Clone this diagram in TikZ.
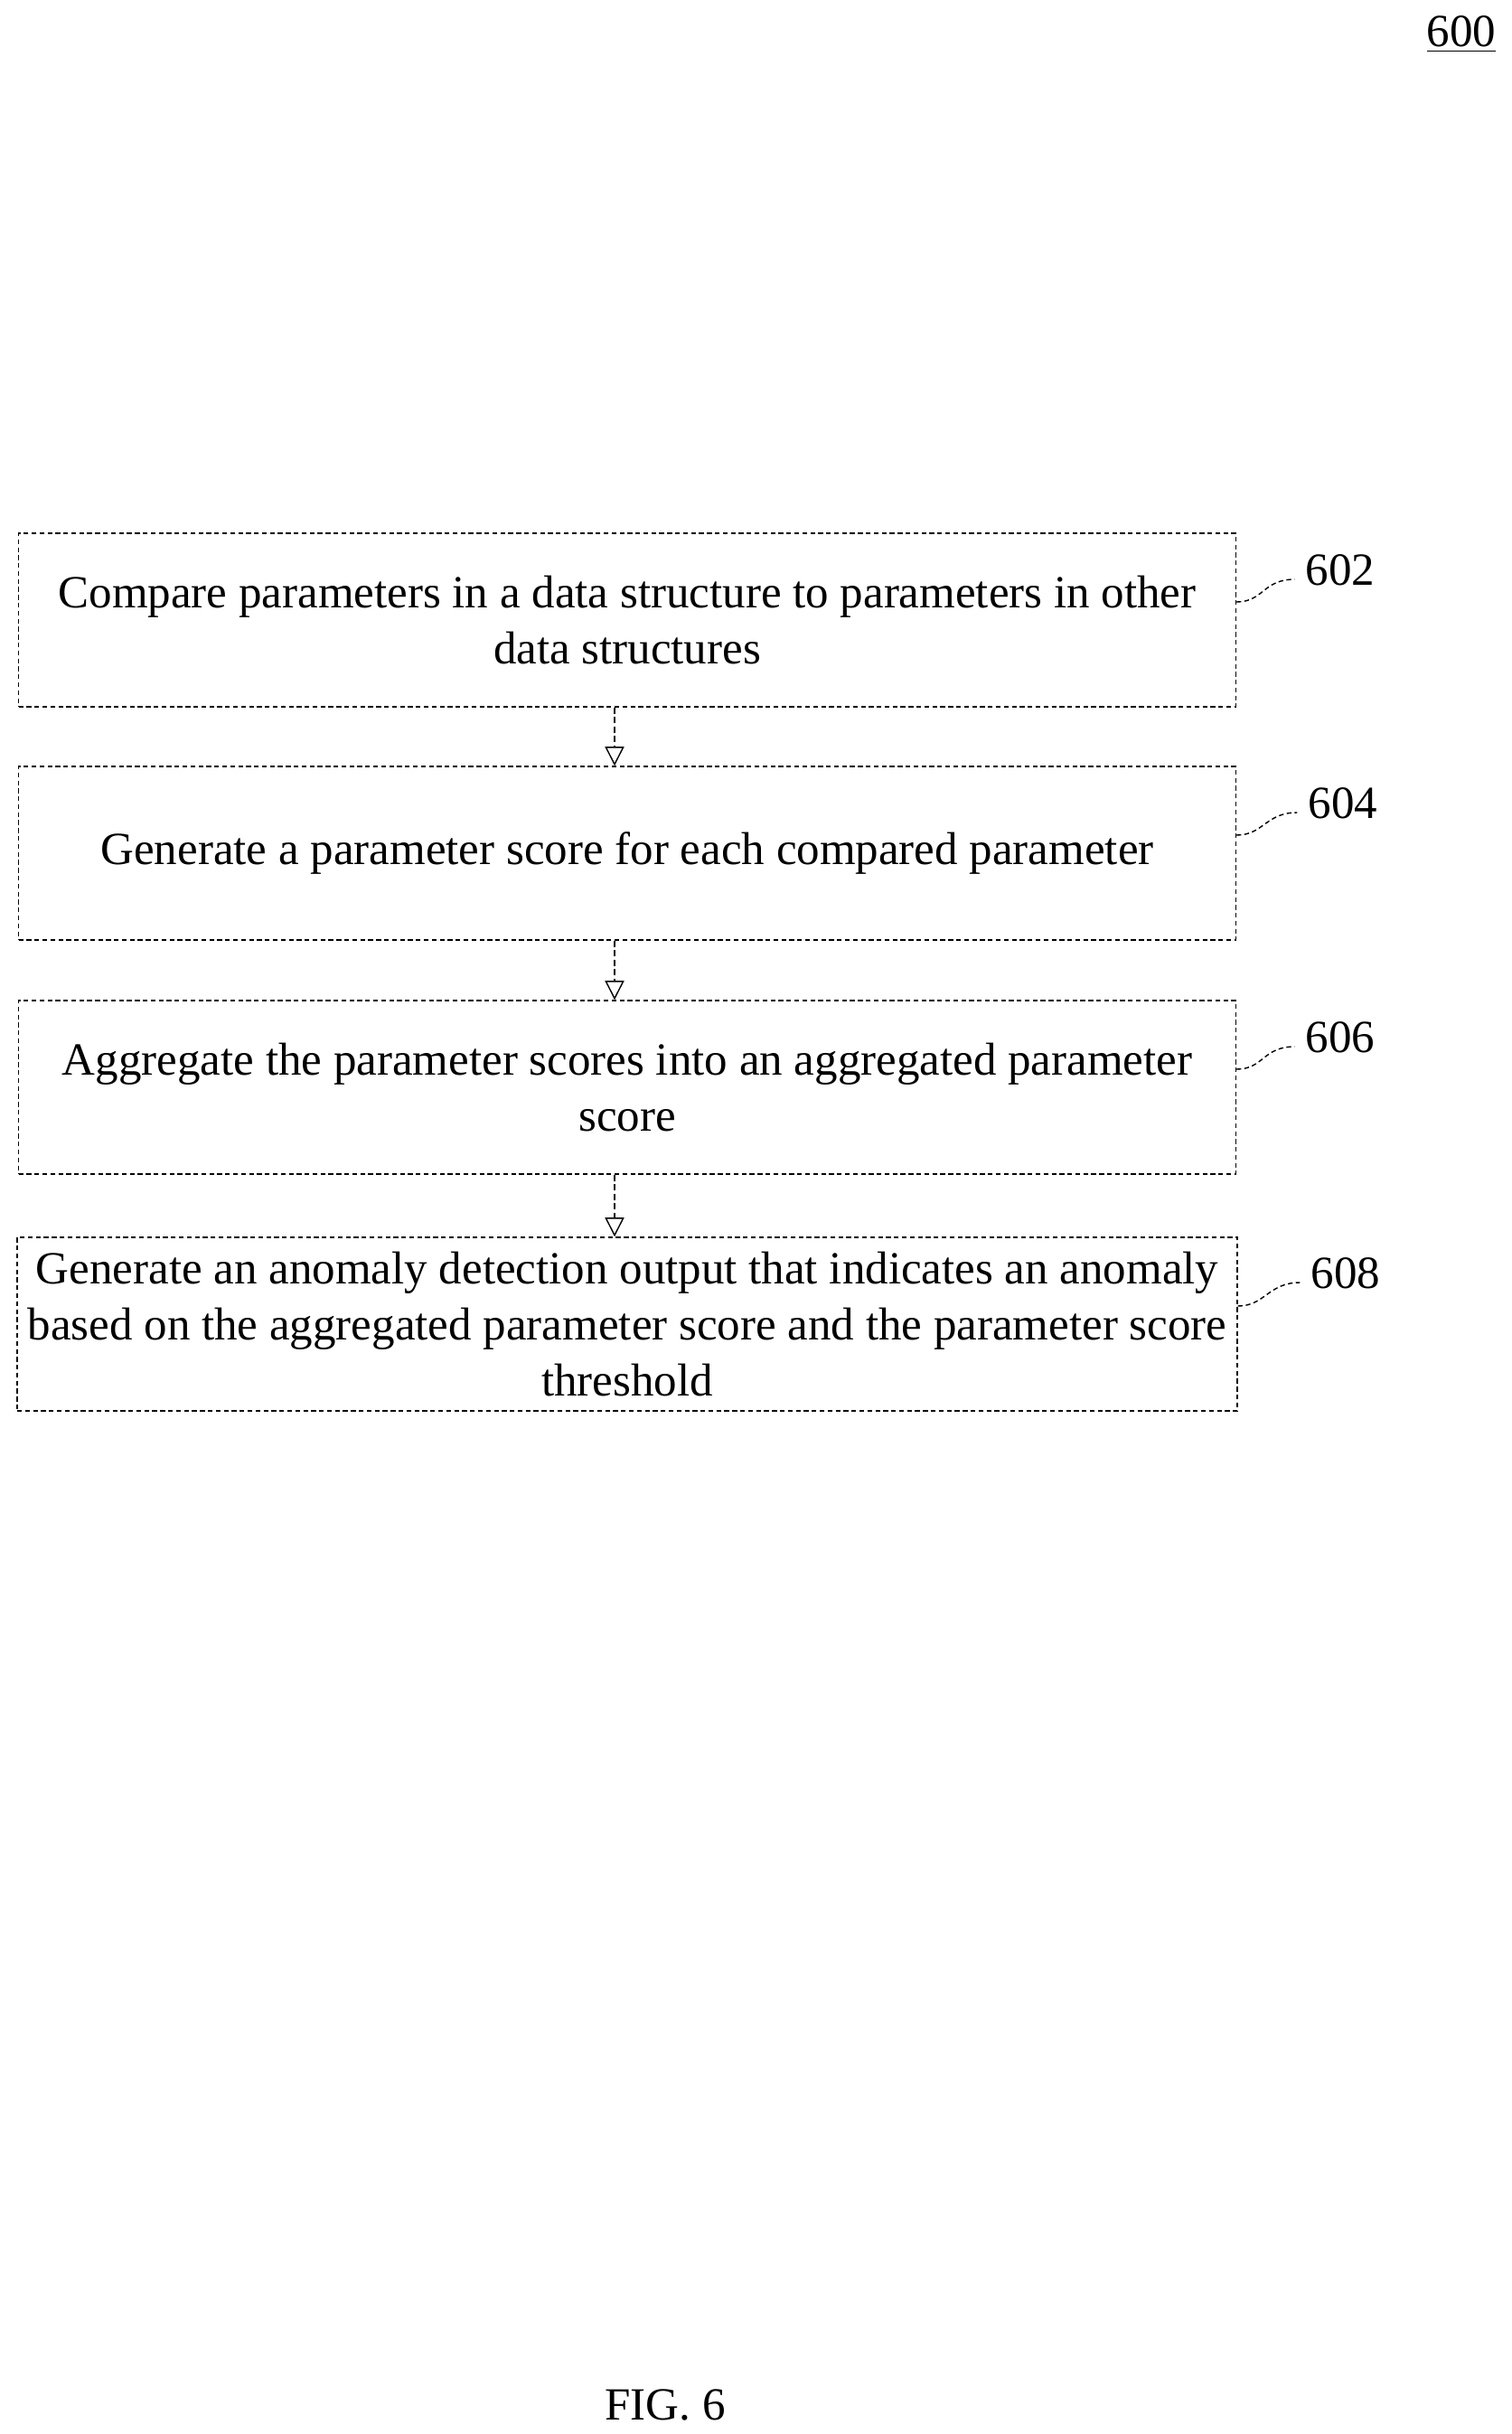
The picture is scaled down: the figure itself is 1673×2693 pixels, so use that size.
\documentclass[tikz,border=0pt]{standalone}
\usepackage{fontspec}
\setmainfont{Liberation Serif}
\usetikzlibrary{positioning,arrows.meta}

\tikzset{
  stepbox/.style={draw,dash pattern=on 1.5pt off 1pt,thin,minimum width=13.46cm,minimum height=1.92cm,
    align=center,font=\fontsize{14.5}{17.5}\selectfont},
  ref/.style={font=\fontsize{14.5}{17}\selectfont},
  flow/.style={dash pattern=on 2pt off 1pt,thin,-{Triangle[open,length=6pt,width=6pt]}},
  lead/.style={dash pattern=on 1.5pt off 1pt,thin}
}

\begin{document}
\begin{tikzpicture}[x=0.01cm,y=-0.01cm]
        \useasboundingbox (0,0) rectangle (1673,2693);
        % steps
        \node[stepbox] (602) at (694,686) {Compare parameters in a data structure to parameters in other\\data structures};
        \node[stepbox] (604) at (694,944) {Generate a parameter score for each compared parameter};
        \node[stepbox] (606) at (694,1203) {Aggregate the parameter scores into an aggregated parameter\\score};
        \node[stepbox] (608) at (694,1465) {Generate an anomaly detection output that indicates an anomaly\\based on the aggregated parameter score and the parameter score\\threshold};
        % reference numerals
        \node[ref] (l602) at (1483,631) {602};
        \node[ref] (l604) at (1486,889) {604};
        \node[ref] (l606) at (1483,1148) {606};
        \node[ref] (l608) at (1489,1409) {608};
        \node[ref] (fig) at (1617,38) {\underline{600}};
        \node[ref] (cap) at (736,2661) {FIG. 6};
        % arrows
        \draw[flow] (602.south -| 680,0) -- (604.north -| 680,0);
        \draw[flow] (604.south -| 680,0) -- (606.north -| 680,0);
        \draw[flow] (606.south -| 680,0) -- (608.north -| 680,0);
        % leaders
        \foreach \s in {602,604,606,608}
          \draw[lead] ([yshift=0.2cm]\s.east) .. controls +(0.3cm,0) and +(-0.35cm,0) .. ([yshift=-0.1cm]l\s.west);
\end{tikzpicture}
\end{document}
